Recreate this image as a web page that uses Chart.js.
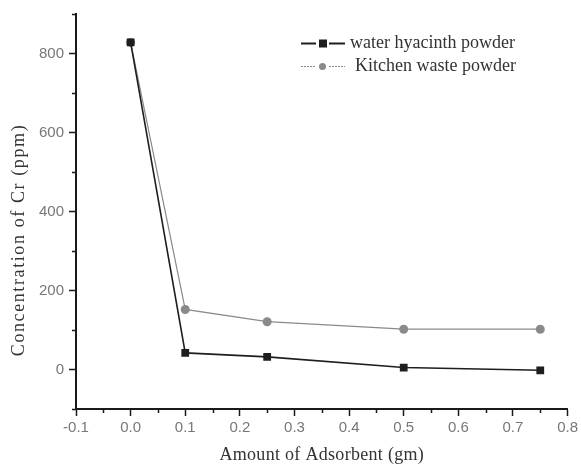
<!DOCTYPE html>
<html>
<head>
<meta charset="utf-8">
<script src="https://cdn.jsdelivr.net/npm/chart.js@4.4.0/dist/chart.umd.min.js"></script>
<style>
  html, body { margin: 0; padding: 0; background: #fff; }
  #wrap { width: 581px; height: 466px; }
</style>
</head>
<body>
<div id="wrap"><canvas id="graph"></canvas></div>
<script>
// amount of adsorbent (gm)
const amounts = [0, 0.1, 0.25, 0.5, 0.75];
// concentration of Cr (ppm)
const hyacinthValues = [828, 42, 32, 5, -2];
const kitchenValues = [828, 152, 121, 102, 102];

const seriesLabels = ["water hyacinth powder", "Kitchen waste powder"];
const xTitle = "Amount of Adsorbent (gm)";
const yTitle = "Concentration of Cr (ppm)";

const AXIS = "#1a1a1a";
const TICK_FONT = { family: "'Liberation Sans', Arial, sans-serif", size: 15 };
const SERIF = "'Liberation Serif', 'Times New Roman', serif";

const styles = [
  { color: "#1e1e1e", point: "rect", radius: 5.5, width: 1.6, dash: [] },
  { color: "#8a8a8a", point: "circle", radius: 4.5, width: 1.2, dash: [] },
];

function toPoints(values) {
  return amounts.map((x, i) => ({ x: x, y: values[i] }));
}

// minor ticks + axis titles + legend (line-marker-line like the original)
const extras = {
  id: "extras",
  afterDraw(chart) {
    const ctx = chart.ctx;
    const xs = chart.scales.x;
    const ys = chart.scales.y;
    const area = chart.chartArea;

    ctx.save();
    ctx.strokeStyle = AXIS;
    ctx.lineWidth = 1.5;
    ctx.beginPath();
    for (let v = -0.05; v < 0.8; v += 0.1) {
      const px = Math.round(xs.getPixelForValue(v)) + 0.5;
      ctx.moveTo(px, area.bottom);
      ctx.lineTo(px, area.bottom + 4);
    }
    for (let v = -100; v <= 900; v += 200) {
      const py = Math.round(ys.getPixelForValue(v)) + 0.5;
      ctx.moveTo(area.left, py);
      ctx.lineTo(area.left - 4, py);
    }
    ctx.stroke();

    // axis titles
    ctx.fillStyle = "#333";
    ctx.font = "18px " + SERIF;
    ctx.textAlign = "center";
    ctx.textBaseline = "middle";
    ctx.letterSpacing = "0.3px";
    ctx.fillText(xTitle, (area.left + area.right) / 2, 455);
    ctx.save();
    ctx.translate(19, 240);
    ctx.rotate(-Math.PI / 2);
    ctx.letterSpacing = "1.6px";
    ctx.fillText(yTitle, 0, 0);
    ctx.restore();
    ctx.letterSpacing = "0px";

    // legend
    const rows = [43, 66];
    chart.data.datasets.forEach((ds, i) => {
      const st = styles[i];
      const y = rows[i] + 0.5;
      ctx.strokeStyle = st.color;
      ctx.lineWidth = i === 0 ? 2 : 1.2;
      ctx.setLineDash(i === 0 ? [] : [2, 1]);
      ctx.beginPath();
      ctx.moveTo(301, y);
      ctx.lineTo(316, y);
      ctx.moveTo(329, y);
      ctx.lineTo(345, y);
      ctx.stroke();
      ctx.setLineDash([]);
      ctx.fillStyle = st.color;
      if (st.point === "rect") {
        ctx.fillRect(319, y - 4, 8, 8);
      } else {
        ctx.beginPath();
        ctx.arc(322.5, y, 3.5, 0, Math.PI * 2);
        ctx.fill();
      }
      ctx.fillStyle = "#333";
      ctx.font = "18px " + SERIF;
      ctx.textAlign = "left";
      ctx.fillText(ds.label, i === 0 ? 350 : 355, y);
    });
    ctx.restore();
  },
};

new Chart(document.getElementById("graph"), {
  type: "scatter",
  data: {
    datasets: [hyacinthValues, kitchenValues].map((vals, i) => ({
      label: seriesLabels[i],
      data: toPoints(vals),
      showLine: true,
      borderColor: styles[i].color,
      backgroundColor: styles[i].color,
      borderWidth: styles[i].width,
      pointStyle: styles[i].point,
      pointRadius: styles[i].radius,
      pointBorderWidth: 0,
      tension: 0,
    })),
  },
  options: {
    responsive: true,
    maintainAspectRatio: false,
    animation: false,
    layout: { padding: { top: 11, right: 13, left: 0, bottom: 0 } },
    plugins: {
      legend: { display: false },
      tooltip: { enabled: false },
    },
    scales: {
      x: {
        type: "linear",
        min: -0.1,
        max: 0.8,
        afterFit: (s) => { s.height = 57; },
        border: { color: AXIS, width: 2 },
        grid: { drawOnChartArea: false, tickLength: 7, tickColor: AXIS, tickWidth: 1.5 },
        ticks: {
          stepSize: 0.1,
          color: "#777",
          font: TICK_FONT,
          padding: 3,
          maxRotation: 0,
          callback: (v) => v.toFixed(1),
        },
      },
      y: {
        min: -100,
        max: 900,
        afterFit: (s) => { s.width = 76; },
        border: { color: AXIS, width: 2 },
        grid: { drawOnChartArea: false, tickLength: 7, tickColor: AXIS, tickWidth: 1.5 },
        ticks: {
          stepSize: 200,
          color: "#777",
          font: TICK_FONT,
          padding: 5,
          callback: (v) => (v % 200 === 0 ? String(v) : ""),
        },
        afterBuildTicks: (s) => {
          s.ticks = [0, 200, 400, 600, 800].map((v) => ({ value: v }));
        },
      },
    },
  },
  plugins: [extras],
});
</script>
</body>
</html>
